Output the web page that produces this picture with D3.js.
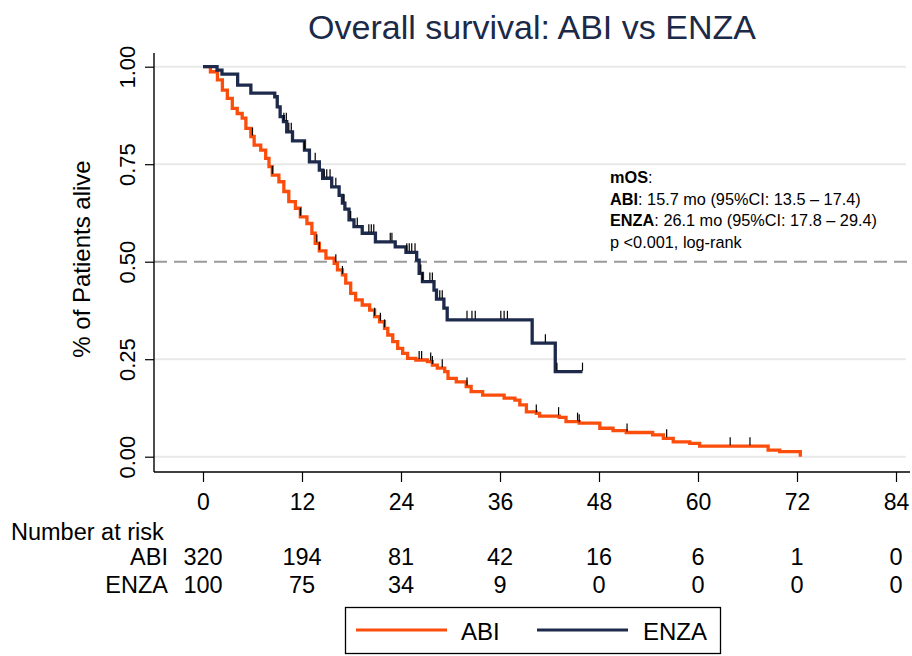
<!DOCTYPE html>
<html>
<head>
<meta charset="utf-8">
<script src="https://cdn.jsdelivr.net/npm/d3@7"></script>
<style>
  html, body { margin: 0; padding: 0; background: #fff; }
  svg { display: block; font-family: "Liberation Sans", Arial, sans-serif; }
</style>
</head>
<body>
<svg id="chart" width="912" height="656"></svg>
<script>
// ---- Data ----
const seriesNames = ["ABI", "ENZA"];
const seriesColors = ["#fb4d0b", "#1d2a4c"];

// Kaplan-Meier steps: [time (months), survival after step]
const abiSteps = [[0,1],[0.9,.987],[1.75,.966],[2.35,.94],[2.95,.919],[3.55,.893],[4.15,.88],[4.75,.868],[5.2,.842],[5.8,.821],[6.2,.799],[7.0,.786],[7.6,.765],[8.0,.744],[8.4,.722],[9.2,.705],[9.8,.68],[10.4,.654],[11.2,.637],[11.8,.615],[12.6,.598],[13.2,.573],[13.6,.547],[14.1,.528],[14.9,.509],[15.9,.496],[16.3,.479],[16.9,.466],[17.3,.445],[17.9,.419],[18.5,.402],[19.3,.389],[20.2,.376],[20.8,.359],[21.4,.346],[22.0,.329],[22.4,.312],[23.0,.295],[23.6,.278],[24.2,.265],[24.8,.252],[25.8,.248],[27.2,.244],[27.8,.235],[28.4,.227],[29.3,.218],[29.7,.201],[30.7,.192],[31.9,.18],[32.5,.167],[33.9,.158],[36.5,.15],[37.8,.145],[38.4,.133],[39.2,.115],[40.4,.111],[40.8,.104],[43.2,.101],[44.0,.09],[45.6,.086],[48.1,.073],[49.7,.067],[51.3,.062],[54.5,.056],[55.8,.047],[57.0,.038],[59.0,.034],[60.2,.027],[68.5,.017],[69.9,.013],[72.4,0]];
const abiEnd = 72.4;
const abiCensored = [6.0,8.4,11.8,13.8,14.1,16.1,16.9,20.8,21.5,22.0,26.2,26.5,27.6,27.8,29.0,32.0,40.4,43.1,45.4,45.6,51.4,56.2,63.9,66.3];

const enzaSteps = [[0,1],[1.7,.991],[2.3,.981],[4.2,.953],[5.8,.932],[8.7,.923],[9.0,.897],[9.35,.872],[9.75,.859],[10.15,.833],[10.85,.81],[12.3,.786],[12.9,.756],[14.1,.735],[14.5,.714],[15.6,.692],[16.5,.67],[16.9,.65],[17.2,.635],[17.7,.607],[18.3,.59],[19.3,.573],[20.9,.551],[23.3,.538],[24.6,.524],[25.9,.504],[26.2,.47],[26.6,.449],[28.0,.427],[28.3,.404],[29.2,.381],[29.6,.351],[39.9,.291],[42.7,.218]];
const enzaEnd = 46.0;
const enzaCensored = [9.8,10.1,10.4,10.7,12.3,13.6,14.7,15.0,15.4,16.1,17.1,17.9,18.7,20.1,20.4,20.7,22.7,22.9,24.7,25.0,25.3,25.7,26.4,26.6,27.5,27.8,28.7,29.0,32.0,32.6,33.0,36.1,36.5,36.9,41.5,42.9,46.0];

const xTicks = [0,12,24,36,48,60,72,84];
const yTicks = [0,0.25,0.5,0.75,1];
const riskABI = [320,194,81,42,16,6,1,0];
const riskENZA = [100,75,34,9,0,0,0,0];

const titleText = "Overall survival: ABI vs ENZA";
const yTitle = "% of Patients alive";
const annotation = [
  [["mOS", true], [":", false]],
  [["ABI", true], [": 15.7 mo (95%CI: 13.5 \u2013 17.4)", false]],
  [["ENZA", true], [": 26.1 mo (95%CI: 17.8 \u2013 29.4)", false]],
  [["p <0.001, log-rank", false]]
];

// ---- Drawing ----
const svg = d3.select("#chart");
const x = d3.scaleLinear().domain([0, 84]).range([203, 896]);
const y = d3.scaleLinear().domain([0, 1]).range([456.7, 66.7]);
const axisX0 = 154, axisY0 = 472;

// gridlines
svg.append("g").selectAll("line")
  .data(yTicks.filter(d => d !== 0.5))
  .join("line")
  .attr("x1", axisX0).attr("x2", 906)
  .attr("y1", d => y(d)).attr("y2", d => y(d))
  .attr("stroke", "#e9e9e9").attr("stroke-width", 2);

// 0.5 dashed reference
svg.append("line")
  .attr("x1", axisX0).attr("x2", 912)
  .attr("y1", y(0.5)).attr("y2", y(0.5))
  .attr("stroke", "#9a9a9a").attr("stroke-width", 2)
  .attr("stroke-dasharray", "13,7");

// Y axis
const yAxis = svg.append("g").attr("transform", `translate(${axisX0},0)`)
  .call(d3.axisLeft(y).tickValues(yTicks).tickSize(9).tickFormat(d3.format(".2f")));
yAxis.select(".domain").remove();
yAxis.selectAll(".tick line").attr("stroke", "#000").attr("stroke-width", 1.2);
yAxis.selectAll(".tick text")
  .attr("x", null).attr("dy", null)
  .attr("text-anchor", "middle")
  .attr("transform", "translate(-19,0) rotate(-90)")
  .attr("font-size", 22).attr("font-family", "Liberation Sans, Arial, sans-serif")
  .attr("fill", "#000");
svg.append("line").attr("x1", axisX0).attr("x2", axisX0).attr("y1", 53).attr("y2", axisY0)
  .attr("stroke", "#000").attr("stroke-width", 1.4);

// X axis
const xAxis = svg.append("g").attr("transform", `translate(0,${axisY0})`)
  .call(d3.axisBottom(x).tickValues(xTicks).tickSize(10).tickPadding(12));
xAxis.select(".domain").remove();
xAxis.selectAll(".tick line").attr("stroke", "#000").attr("stroke-width", 1.2);
xAxis.selectAll(".tick text")
  .attr("font-size", 23).attr("font-family", "Liberation Sans, Arial, sans-serif")
  .attr("fill", "#000").attr("dy", null).attr("y", 38);
svg.append("line").attr("x1", axisX0).attr("x2", 910).attr("y1", axisY0).attr("y2", axisY0)
  .attr("stroke", "#000").attr("stroke-width", 1.4);

// Y title
svg.append("text")
  .attr("transform", "translate(90,259) rotate(-90)")
  .attr("text-anchor", "middle")
  .attr("font-size", 24).attr("fill", "#000")
  .text(yTitle);

// Title
svg.append("text")
  .attr("x", 532).attr("y", 39)
  .attr("text-anchor", "middle")
  .attr("font-size", 34).attr("fill", "#1c2a48")
  .text(titleText);

// KM curves
function survAt(steps, t) {
  const i = d3.bisector(d => d[0]).right(steps, t) - 1;
  return steps[Math.max(0, i)][1];
}
const line = d3.line().x(d => x(d[0])).y(d => y(d[1])).curve(d3.curveStepAfter);
const curves = [
  { steps: abiSteps, end: abiEnd, cens: abiCensored, color: seriesColors[0] },
  { steps: enzaSteps, end: enzaEnd, cens: enzaCensored, color: seriesColors[1] }
];
curves.forEach(c => {
  const pts = c.steps.concat([[c.end, c.steps[c.steps.length - 1][1]]]);
  svg.append("path").datum(pts)
    .attr("d", line)
    .attr("fill", "none")
    .attr("stroke", c.color)
    .attr("stroke-width", 3.3)
    .attr("stroke-linejoin", "miter");
});
curves.forEach(c => {
  svg.append("g").selectAll("line").data(c.cens).join("line")
    .attr("x1", d => x(d)).attr("x2", d => x(d))
    .attr("y1", d => y(survAt(c.steps, d)) - 1)
    .attr("y2", d => y(survAt(c.steps, d)) - 9)
    .attr("stroke", "#000").attr("stroke-width", 1.2);
});

// Annotation
const ann = svg.append("text").attr("font-size", 16.3).attr("fill", "#000")
  .attr("font-family", "Liberation Sans, Arial, sans-serif");
annotation.forEach((parts, i) => {
  parts.forEach((p, j) => {
    const ts = ann.append("tspan").text(p[0]).attr("font-weight", p[1] ? "bold" : "normal");
    if (j === 0) ts.attr("x", 610).attr("y", 183 + i * 21.7);
  });
});

// Number at risk table
const tableFont = 23.5;
svg.append("text").attr("x", 11).attr("y", 540).attr("font-size", tableFont).text("Number at risk");
[[seriesNames[0], riskABI, 565], [seriesNames[1], riskENZA, 593]].forEach(([name, vals, yy]) => {
  svg.append("text").attr("x", 168).attr("y", yy).attr("text-anchor", "end")
    .attr("font-size", tableFont).text(name);
  svg.append("g").selectAll("text").data(vals).join("text")
    .attr("x", (d, i) => x(xTicks[i])).attr("y", yy)
    .attr("text-anchor", "middle").attr("font-size", tableFont)
    .text(d => d);
});

// Legend
const lg = svg.append("g");
lg.append("rect").attr("x", 345.5).attr("y", 607.5).attr("width", 375).attr("height", 46)
  .attr("fill", "#fff").attr("stroke", "#000").attr("stroke-width", 1.3);
const legendItems = [
  { name: seriesNames[0], color: seriesColors[0], x1: 356, x2: 447, tx: 461 },
  { name: seriesNames[1], color: seriesColors[1], x1: 537, x2: 628, tx: 643 }
];
legendItems.forEach(it => {
  lg.append("line").attr("x1", it.x1).attr("x2", it.x2).attr("y1", 630).attr("y2", 630)
    .attr("stroke", it.color).attr("stroke-width", 3.2);
  lg.append("text").attr("x", it.tx).attr("y", 640).attr("font-size", 24).text(it.name);
});
</script>
</body>
</html>
